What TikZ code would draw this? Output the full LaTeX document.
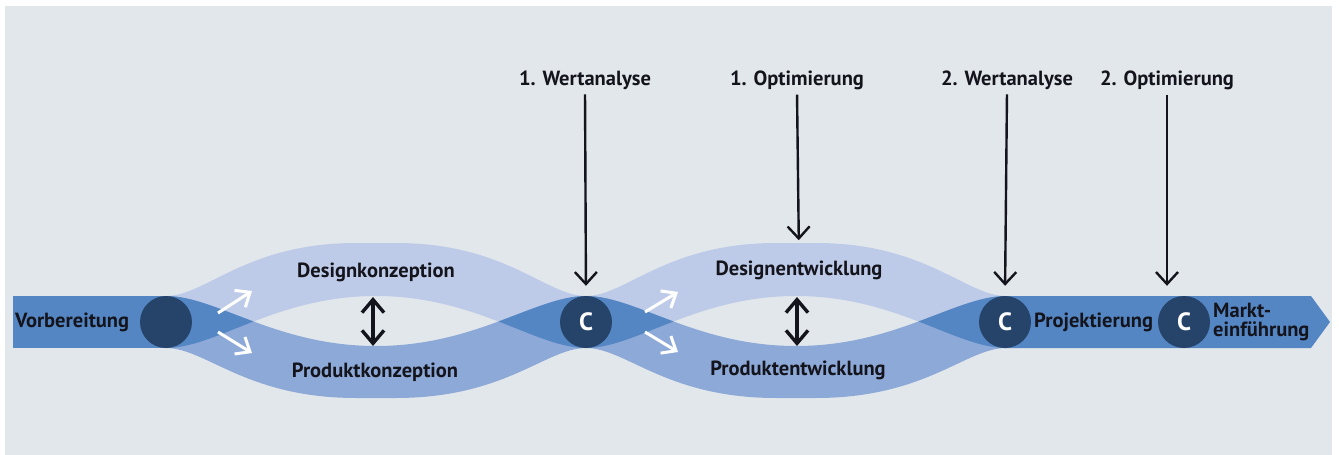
\documentclass[tikz,border=0pt]{standalone}
\usepackage{fontspec}
\setmainfont{PT Sans}[BoldFont={PT Sans Bold}]
\usetikzlibrary{arrows.meta}
\definecolor{bgc}{RGB}{226,231,235}
\definecolor{mainc}{RGB}{85,134,196}
\definecolor{upc}{RGB}{190,203,232}
\definecolor{loc}{RGB}{141,169,216}
\definecolor{darkc}{RGB}{38,68,106}
\definecolor{txtc}{RGB}{20,20,28}
\newcommand{\upperlane}[1]{(#1,296) .. controls ({#1+40},296) and ({#1+80},243) .. ({#1+190},243) -- ({#1+230},243) .. controls ({#1+340},243) and ({#1+380},296) .. ({#1+420},296) -- ({#1+420},348) .. controls ({#1+370},348) and ({#1+310},296) .. ({#1+210},296) .. controls ({#1+110},296) and ({#1+50},348) .. (#1,348) -- cycle}
\newcommand{\lowerlane}[1]{(#1,348) .. controls ({#1+40},348) and ({#1+80},398) .. ({#1+190},398) -- ({#1+230},398) .. controls ({#1+340},398) and ({#1+380},348) .. ({#1+420},348) -- ({#1+420},296) .. controls ({#1+370},296) and ({#1+310},346) .. ({#1+210},346) .. controls ({#1+110},346) and ({#1+50},296) .. (#1,296) -- cycle}
\tikzset{
  lbl/.style={font=\bfseries\fontsize{20.5}{19}\selectfont, text=txtc, inner sep=2pt},
  circ/.style={circle, fill=darkc, minimum size=52pt, inner sep=0pt, text=white, font=\bfseries\fontsize{25}{25}\selectfont},
  varrow/.style={draw=txtc, line width=2.4pt, -{Straight Barb[length=12pt,width=22pt]}},
  darrow/.style={draw=txtc, line width=3.4pt, {Straight Barb[length=13pt,width=22pt]}-{Straight Barb[length=13pt,width=22pt]}},
  warrow/.style={draw=white, line width=3pt, -{Straight Barb[length=12pt,width=20pt]}}
}
\begin{document}
\begin{tikzpicture}[x=1pt,y=-1pt]
\useasboundingbox (0,0) rectangle (1339,455);
\fill[bgc] (5,6) rectangle (1332,455);
% lanes
\foreach \s in {166,586}{
  \fill[upc] \upperlane{\s};
  \fill[loc] \lowerlane{\s};
  \begin{scope}
    \clip \upperlane{\s};
    \fill[mainc] \lowerlane{\s};
  \end{scope}
}
% main band
\fill[mainc] (13,296) rectangle (167,348);
\fill[mainc] (1004,296) -- (1311,296) -- (1330,322) -- (1311,348) -- (1004,348) -- cycle;
% circles
\node[circ] (c0) at (166,322) {};
\node[circ] (c1) at (586,322) {C};
\node[circ] (c2) at (1005,322) {C};
\node[circ] (c3) at (1184,322) {C};
% lane texts
\node[lbl, anchor=west] (vor) at (13,322) {Vorbereitung};
\node[lbl, anchor=base] (dk) at (376,277) {Designkonzeption};
\node[lbl, anchor=base] (pk) at (375,377) {Produktkonzeption};
\node[lbl, anchor=base] (de) at (799,275) {Designentwicklung};
\node[lbl, anchor=base] (pe) at (798,375) {Produktentwicklung};
\node[lbl, anchor=west] (proj) at (1032,322) {Projektierung};
\node[lbl, anchor=west, align=left] (markt) at (1211,322) {Markt-\\einführung};
% top labels
\node[lbl, anchor=base] (w1) at (585,85) {1. Wertanalyse};
\node[lbl, anchor=base] (o1) at (797,85) {1. Optimierung};
\node[lbl, anchor=base] (w2) at (1007,85) {2. Wertanalyse};
\node[lbl, anchor=base] (o2) at (1167,85) {2. Optimierung};
% vertical arrows
\draw[varrow, shorten <=3pt, shorten >=10pt] (w1.south) -- (c1.north);
\draw[varrow, shorten <=3pt, shorten >=18pt] (o1.south) -- (de.north);
\draw[varrow, shorten <=3pt, shorten >=10pt] (w2.south) -- (c2.north);
\draw[varrow, shorten <=3pt, shorten >=10pt] (o2.south) -- (o2.south |- c3.north);
% double arrows
\coordinate (da1t) at (373,297);
\coordinate (da1b) at (373,346);
\coordinate (da2t) at (797,297);
\coordinate (da2b) at (797,346);
\draw[darrow] (da1t) -- (da1b);
\draw[darrow] (da2t) -- (da2b);
% white arrows
\coordinate (wa1s) at (218,313);
\coordinate (wa1e) at (252,291);
\coordinate (wa2s) at (218,332);
\coordinate (wa2e) at (252,353);
\coordinate (wa3s) at (645,312);
\coordinate (wa3e) at (678,292);
\coordinate (wa4s) at (645,332);
\coordinate (wa4e) at (678,352);
\draw[warrow] (wa1s) -- (wa1e);
\draw[warrow] (wa2s) -- (wa2e);
\draw[warrow] (wa3s) -- (wa3e);
\draw[warrow] (wa4s) -- (wa4e);
\end{tikzpicture}
\end{document}
